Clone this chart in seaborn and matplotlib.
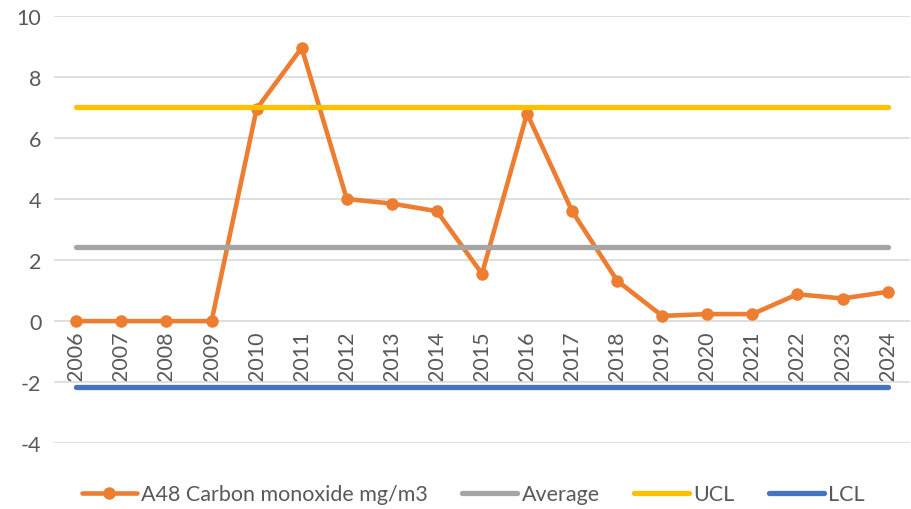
import matplotlib
matplotlib.use("Agg")
import matplotlib.pyplot as plt
import seaborn as sns
import pandas as pd

# data
years = [str(y) for y in range(2006, 2025)]
co_values = [0, 0, 0, 0, 6.95, 8.95, 4.0, 3.85, 3.6, 1.55, 6.8, 3.6,
             1.32, 0.17, 0.23, 0.23, 0.88, 0.74, 0.96]
average = 2.42
ucl = 7.0
lcl = -2.16
series_label = "A48 Carbon monoxide mg/m3"

sns.set_theme(style="white")
plt.rcParams['font.family'] = ['Lato', 'DejaVu Sans']
plt.rcParams['axes.unicode_minus'] = False

text_color = "#595959"
fs = 15.5

df = pd.DataFrame({"year": years, "value": co_values})

fig = plt.figure(figsize=(9.12, 5.10), dpi=100)
ax = fig.add_axes([0.059, 0.129, 0.939, 0.838])

sns.lineplot(data=df, x="year", y="value", ax=ax, color="#ED7D31",
             linewidth=3.3, marker="o", markersize=9, markeredgewidth=0,
             label=series_label, zorder=3, sort=False)

for val, name, col in [(average, "Average", "#A5A5A5"),
                       (ucl, "UCL", "#FFC000"),
                       (lcl, "LCL", "#4472C4")]:
    sns.lineplot(x=years, y=[val] * len(years), ax=ax, color=col,
                 linewidth=3.8, label=name, zorder=4, sort=False,
                 solid_capstyle="round")

ax.set_xlim(-0.5, len(years) - 0.5)
ax.set_ylim(-4, 10)
ax.set_yticks(range(-4, 11, 2))
ax.yaxis.grid(True, color="#D9D9D9", linewidth=1.2)
ax.set_axisbelow(True)

for s in ax.spines.values():
    s.set_visible(False)
ax.spines['bottom'].set_position(('data', 0))

ax.tick_params(axis='x', length=0, pad=7, labelsize=fs, labelcolor=text_color,
               labelrotation=90)
ax.tick_params(axis='y', length=0, pad=9, labelsize=fs, labelcolor=text_color)
ax.set_xlabel("")
ax.set_ylabel("")

leg = ax.legend(loc="center", bbox_to_anchor=(0.49, -0.12), ncol=4,
                frameon=False, fontsize=fs, handlelength=2.55,
                columnspacing=1.6, handletextpad=0.2, borderpad=0)
for t in leg.get_texts():
    t.set_color(text_color)

fig.savefig("out.png", dpi=100)
